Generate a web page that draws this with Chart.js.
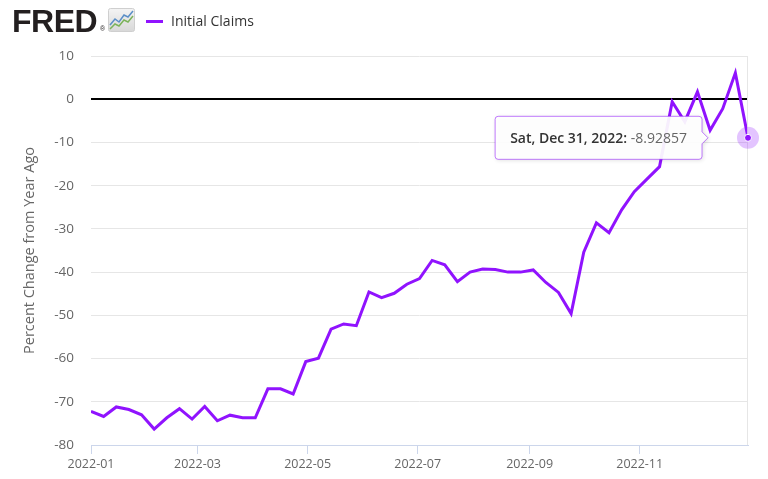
<!DOCTYPE html>
<html>
<head>
<meta charset="utf-8">
<script src="https://cdn.jsdelivr.net/npm/chart.js@4.4.1/dist/chart.umd.min.js"></script>
<style>
  html, body { margin: 0; padding: 0; background: #fff; }
  #wrap { position: relative; width: 768px; height: 479px; overflow: hidden; }
  #chart { position: absolute; left: 0; top: 0; }
  .logo { position: absolute; left: 12px; top: 3px; font-family: "Liberation Sans", Arial, sans-serif;
          font-weight: bold; font-size: 32px; color: #231f20; letter-spacing: -0.5px; }
  .reg { position: absolute; left: 100px; top: 25px; font-family: "Liberation Sans", sans-serif; font-size: 7px; color: #231f20; }
  .icon { position: absolute; left: 108px; top: 8px; }
  .legend { position: absolute; left: 146px; top: 11px; font-family: "Open Sans", sans-serif; font-size: 14px; color: #333; }
  .legend .swatch { display: inline-block; width: 17px; height: 3px; background: #9013fe; vertical-align: middle; margin-right: 8px; position: relative; top: -1px; }
</style>
</head>
<body>
<div id="wrap">
  <canvas id="chart" width="768" height="479"></canvas>
  <div class="logo">FRED</div>
  <div class="reg">®</div>
  <svg class="icon" width="27" height="24" viewBox="0 0 27 24">
    <defs>
      <linearGradient id="g" x1="0" y1="0" x2="0" y2="1">
        <stop offset="0" stop-color="#f4f4f4"/>
        <stop offset="1" stop-color="#d8d8d8"/>
      </linearGradient>
    </defs>
    <rect x="0.5" y="0.5" width="26" height="23" rx="2" fill="url(#g)" stroke="#cfcfcf"/>
    <polyline points="2,17 7,11 11,14 16,7 20,9 25,3" fill="none" stroke="#5b8fc7" stroke-width="1.5"/>
    <polyline points="2,21 7,16 11,18 16,12 20,14 25,8" fill="none" stroke="#7cb35a" stroke-width="1.5"/>
  </svg>
  <div class="legend"><span class="swatch"></span>Initial Claims</div>
</div>
<script>
// Initial Claims, percent change from year ago, weekly (Saturdays) 2022
const startDate = '2022-01-01';
const seriesName = 'Initial Claims';
const claimsPct = [
  -72.2, -73.4, -71.2, -71.8, -73.0, -76.3, -73.7, -71.6, -74.0, -71.1,
  -74.4, -73.1, -73.7, -73.7, -67.0, -67.0, -68.2, -60.7, -59.9, -53.2,
  -52.0, -52.4, -44.6, -45.9, -44.9, -42.8, -41.5, -37.3, -38.3, -42.2,
  -40.0, -39.3, -39.4, -40.0, -40.0, -39.5, -42.4, -44.7, -49.6, -35.4,
  -28.6, -30.9, -25.6, -21.4, -18.5, -15.6, -0.6, -5.2, 1.7, -7.2,
  -2.2, 6.1, -8.92857
];
const xTickLabels = ['2022-01', '2022-03', '2022-05', '2022-07', '2022-09', '2022-11'];
const yTicks = [-80, -70, -60, -50, -40, -30, -20, -10, 0, 10];
const yTitle = 'Percent Change from Year Ago';

const DAY = 86400000;
const start = Date.parse(startDate + 'T00:00:00Z');
const dayOf = s => Math.round((Date.parse(s + 'T00:00:00Z') - start) / DAY);
const tickDays = xTickLabels.map(m => dayOf(m + '-01'));
const points = claimsPct.map((v, i) => ({ x: i * 7, y: v }));
const lastDay = (claimsPct.length - 1) * 7;

const purple = '#9013fe';
const font = 'Open Sans';

function fmtDate(dayNum) {
  const d = new Date(start + dayNum * DAY);
  return d.toLocaleDateString('en-US', { weekday: 'short', month: 'short', day: 'numeric', year: 'numeric', timeZone: 'UTC' });
}

// halo, tooltip and right border
const extras = {
  id: 'extras',
  afterDatasetsDraw(chart) {
    const ctx = chart.ctx;
    const area = chart.chartArea;
    ctx.save();
    ctx.strokeStyle = '#e6e6e6';
    ctx.lineWidth = 1;
    ctx.beginPath();
    ctx.moveTo(Math.round(area.right) - 0.5, area.top);
    ctx.lineTo(Math.round(area.right) - 0.5, area.bottom);
    ctx.stroke();

    const meta = chart.getDatasetMeta(0);
    const pt = meta.data[meta.data.length - 1];
    const px = pt.x, py = pt.y;

    ctx.fillStyle = 'rgba(144, 19, 254, 0.25)';
    ctx.beginPath();
    ctx.arc(px, py, 11, 0, Math.PI * 2);
    ctx.fill();
    ctx.fillStyle = purple;
    ctx.strokeStyle = '#fff';
    ctx.lineWidth = 1;
    ctx.beginPath();
    ctx.arc(px, py, 3.5, 0, Math.PI * 2);
    ctx.fill();
    ctx.stroke();

    const boldTxt = fmtDate(lastDay) + ': ';
    const valTxt = String(claimsPct[claimsPct.length - 1]);
    ctx.font = '600 14px "' + font + '"';
    const w1 = ctx.measureText(boldTxt).width;
    ctx.font = '14px "' + font + '"';
    const w2 = ctx.measureText(valTxt).width;
    const bw = w1 + w2 + 30, bh = 43;
    const tipX = px - 40;
    const bx = tipX - 6 - bw, by = py - bh / 2;

    ctx.shadowColor = 'rgba(0,0,0,0.15)';
    ctx.shadowBlur = 4;
    ctx.shadowOffsetX = 1;
    ctx.shadowOffsetY = 1;
    ctx.fillStyle = 'rgba(255,255,255,0.93)';
    ctx.strokeStyle = 'rgba(144, 19, 254, 0.55)';
    ctx.lineWidth = 1;
    ctx.beginPath();
    ctx.moveTo(bx + 3, by);
    ctx.lineTo(bx + bw - 3, by);
    ctx.quadraticCurveTo(bx + bw, by, bx + bw, by + 3);
    ctx.lineTo(bx + bw, py - 6);
    ctx.lineTo(tipX, py);
    ctx.lineTo(bx + bw, py + 6);
    ctx.lineTo(bx + bw, by + bh - 3);
    ctx.quadraticCurveTo(bx + bw, by + bh, bx + bw - 3, by + bh);
    ctx.lineTo(bx + 3, by + bh);
    ctx.quadraticCurveTo(bx, by + bh, bx, by + bh - 3);
    ctx.lineTo(bx, by + 3);
    ctx.quadraticCurveTo(bx, by, bx + 3, by);
    ctx.closePath();
    ctx.fill();
    ctx.shadowColor = 'transparent';
    ctx.stroke();

    ctx.textBaseline = 'middle';
    ctx.textAlign = 'left';
    ctx.font = '600 14px "' + font + '"';
    ctx.fillStyle = '#333';
    ctx.fillText(boldTxt, bx + 15, py + 1);
    ctx.font = '14px "' + font + '"';
    ctx.fillStyle = '#666';
    ctx.fillText(valTxt, bx + 15 + w1, py + 1);
    ctx.restore();
  }
};

new Chart(document.getElementById('chart'), {
  type: 'line',
  data: {
    datasets: [{
      label: seriesName,
      data: points,
      borderColor: purple,
      borderWidth: 3,
      pointRadius: 0,
      tension: 0,
      fill: false
    }]
  },
  options: {
    responsive: false,
    animation: false,
    devicePixelRatio: 1,
    layout: { padding: { top: 56, right: 20, bottom: 4, left: 0 } },
    plugins: { legend: { display: false }, tooltip: { enabled: false } },
    scales: {
      x: {
        type: 'linear',
        min: 0,
        max: lastDay,
        afterBuildTicks: s => { s.ticks = tickDays.map(v => ({ value: v })); },
        ticks: {
          autoSkip: false,
          maxRotation: 0,
          color: '#666',
          padding: 3,
          font: { family: font, size: 12.5 },
          callback: v => xTickLabels[tickDays.indexOf(v)]
        },
        grid: { drawOnChartArea: false, drawTicks: true, tickLength: 9, color: '#ccd6eb' },
        border: { color: '#ccd6eb', width: 1 }
      },
      y: {
        min: yTicks[0],
        max: yTicks[yTicks.length - 1],
        afterBuildTicks: s => { s.ticks = yTicks.map(v => ({ value: v })); },
        afterFit: s => { s.width = 91; },
        ticks: {
          color: '#666',
          padding: 17,
          font: { family: font, size: 13.5 }
        },
        grid: {
          drawTicks: false,
          color: c => c.tick && c.tick.value === 0 ? '#000' : '#e6e6e6',
          lineWidth: c => c.tick && c.tick.value === 0 ? 2 : 1
        },
        border: { display: false },
        title: {
          display: true,
          text: yTitle,
          color: '#666',
          padding: { top: 21, bottom: 0 },
          font: { family: font, size: 14.5 }
        }
      }
    }
  },
  plugins: [extras]
});
</script>
</body>
</html>
